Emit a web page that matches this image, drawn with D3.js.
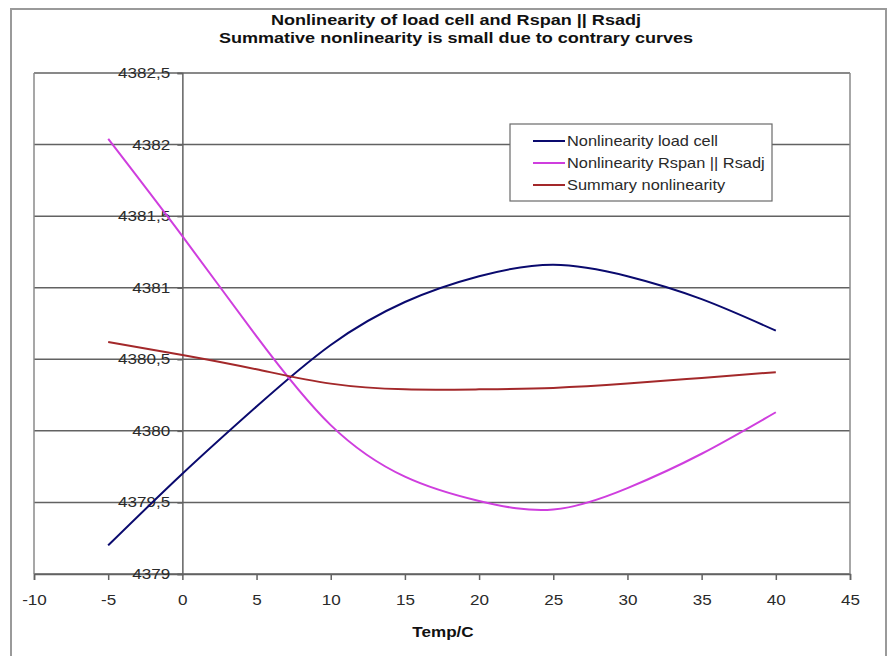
<!DOCTYPE html>
<html>
<head>
<meta charset="utf-8">
<script src="https://cdn.jsdelivr.net/npm/d3@7/dist/d3.min.js"></script>
<style>
  html, body { margin: 0; padding: 0; background: #fff; }
  svg { display: block; font-family: "Liberation Sans", Arial, sans-serif; }
</style>
</head>
<body>
<svg id="chart" width="894" height="656"></svg>
<script>
const temps = [-5, 0, 5, 10, 15, 20, 25, 30, 35, 40];
const loadCell = [4379.20, 4379.70, 4380.17, 4380.60, 4380.90, 4381.08, 4381.16, 4381.08, 4380.92, 4380.70];
const rspanRsadj = [4382.04, 4381.36, 4380.66, 4380.04, 4379.68, 4379.51, 4379.45, 4379.60, 4379.84, 4380.13];
const summary = [4380.62, 4380.53, 4380.43, 4380.33, 4380.29, 4380.29, 4380.30, 4380.33, 4380.37, 4380.41];
const seriesNames = ["Nonlinearity load cell", "Nonlinearity Rspan || Rsadj", "Summary nonlinearity"];
const xTicks = [-10, -5, 0, 5, 10, 15, 20, 25, 30, 35, 40, 45];
const yTicks = [4379, 4379.5, 4380, 4380.5, 4381, 4381.5, 4382, 4382.5];
const titleLines = ["Nonlinearity of load cell and Rspan || Rsadj", "Summative nonlinearity is small due to contrary curves"];
const xTitle = "Temp/C";

const colors = ["#0a0a6e", "#cf3ede", "#a3282a"];
const seriesValues = [loadCell, rspanRsadj, summary];
const SX = 1.22;      // horizontal text stretch seen in the reference
const SX_TITLE = 1.29;
const SX_LEGEND = 1.17;
const FS = 14;

const svg = d3.select("#chart");
const x = d3.scaleLinear().domain([-10, 45]).range([34, 850]);
const y = d3.scaleLinear().domain([4379, 4382.5]).range([574, 73]);
const fmt = d => String(d).replace(".", ",");

// outer chart border
svg.append("rect").attr("x", 11).attr("y", 9).attr("width", 875).attr("height", 660)
  .attr("fill", "#fff").attr("stroke", "#9a9a9a").attr("stroke-width", 2);

// titles
svg.append("g").selectAll("text").data(titleLines).join("text")
  .attr("transform", (d, i) => `translate(456,${25 + i * 18}) scale(${SX_TITLE},1)`)
  .attr("text-anchor", "middle").attr("font-weight", "bold").attr("font-size", FS)
  .attr("fill", "#111").text(d => d);

// gridlines
svg.append("g").selectAll("line").data(yTicks).join("line")
  .attr("x1", x(-10)).attr("x2", x(45))
  .attr("y1", d => y(d)).attr("y2", d => y(d))
  .attr("stroke", "#626262").attr("stroke-width", 1.5);

// plot border verticals
svg.append("line").attr("x1", x(-10)).attr("x2", x(-10)).attr("y1", y(4382.5)).attr("y2", y(4379))
  .attr("stroke", "#8a8a8a").attr("stroke-width", 1.5);
svg.append("line").attr("x1", x(45)).attr("x2", x(45)).attr("y1", y(4382.5)).attr("y2", y(4379))
  .attr("stroke", "#8a8a8a").attr("stroke-width", 1.5);

// x axis
const xAxis = svg.append("g").attr("transform", `translate(0,${y(4379)})`)
  .call(d3.axisBottom(x).tickValues(xTicks).tickSize(6).tickPadding(15).tickFormat(d => String(d)));
xAxis.select(".domain").attr("stroke", "#626262").attr("stroke-width", 1.5);
xAxis.selectAll(".tick line").attr("stroke", "#626262").attr("stroke-width", 1.5);
xAxis.selectAll("text").attr("font-size", FS).attr("fill", "#2a2a2a")
  .attr("font-family", "Liberation Sans, Arial, sans-serif").attr("transform", `scale(${SX},1)`);

// y axis at x = 0
const yAxis = svg.append("g").attr("transform", `translate(${x(0)},0)`)
  .call(d3.axisLeft(y).tickValues(yTicks).tickSize(5).tickPadding(5).tickFormat(fmt));
yAxis.select(".domain").attr("stroke", "#626262").attr("stroke-width", 1.5);
yAxis.selectAll(".tick line").attr("stroke", "#626262").attr("stroke-width", 1.5);
yAxis.selectAll("text").attr("font-size", FS).attr("fill", "#2a2a2a")
  .attr("font-family", "Liberation Sans, Arial, sans-serif").attr("transform", `scale(${SX},1)`);

// x title
svg.append("text").attr("transform", `translate(443,637) scale(${SX},1)`).attr("text-anchor", "middle")
  .attr("font-weight", "bold").attr("font-size", FS).attr("fill", "#111").text(xTitle);

// series
const line = d3.line().x(d => x(d[0])).y(d => y(d[1])).curve(d3.curveNatural);
seriesValues.forEach((vals, i) => {
  svg.append("path").datum(temps.map((t, j) => [t, vals[j]]))
    .attr("fill", "none").attr("stroke", colors[i]).attr("stroke-width", 2)
    .attr("stroke-linejoin", "round").attr("d", line);
});

// legend
const lg = svg.append("g");
lg.append("rect").attr("x", 510).attr("y", 124).attr("width", 262).attr("height", 77)
  .attr("fill", "#fff").attr("stroke", "#6a6a6a").attr("stroke-width", 1.2);
seriesNames.forEach((name, i) => {
  const cy = 141 + i * 22;
  lg.append("line").attr("x1", 533).attr("x2", 565).attr("y1", cy).attr("y2", cy)
    .attr("stroke", colors[i]).attr("stroke-width", 2);
  lg.append("text").attr("transform", `translate(567,${cy + 5}) scale(${SX_LEGEND},1)`).attr("font-size", FS)
    .attr("fill", "#2a2a2a").text(name);
});
</script>
</body>
</html>
